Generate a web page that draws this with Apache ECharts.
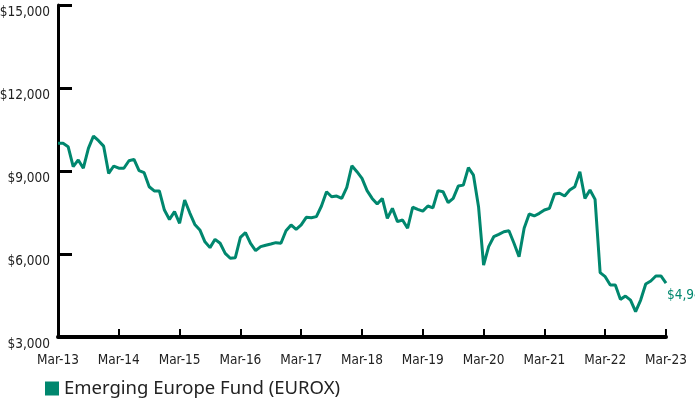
<!DOCTYPE html>
<html>
<head>
<meta charset="utf-8">
<script src="https://cdn.jsdelivr.net/npm/echarts@6/dist/echarts.min.js"></script>
<style>
  html, body { margin: 0; padding: 0; background: #fff; }
  #chart { width: 695px; height: 400px; }
</style>
</head>
<body>
<div id="chart"></div>
<script>
// 月度净值（$10,000 起始），Mar-13 到 Mar-23
const seriesName = 'Emerging Europe Fund (EUROX)'
const monthNames = ['Mar', 'Apr', 'May', 'Jun', 'Jul', 'Aug', 'Sep', 'Oct', 'Nov', 'Dec', 'Jan', 'Feb']
const fundValues = [
  10000, 10000, 9880, 9155, 9400, 9100, 9820, 10264, 10095, 9900, 8915, 9180,
  9100, 9100, 9370, 9420, 9010, 8940, 8430, 8280, 8280, 7590, 7250, 7530,
  7110, 7950, 7490, 7070, 6870, 6440, 6230, 6530, 6390, 6025, 5845, 5865,
  6600, 6770, 6380, 6120, 6265, 6315, 6360, 6410, 6390, 6840, 7050, 6890,
  7050, 7325, 7310, 7350, 7735, 8250, 8070, 8095, 8010, 8410, 9190, 8975,
  8735, 8290, 8010, 7805, 8010, 7290, 7650, 7170, 7230, 6930, 7690, 7615,
  7550, 7735, 7670, 8290, 8250, 7855, 8010, 8455, 8490, 9120, 8850, 7710,
  5600, 6265, 6625, 6710, 6805, 6840, 6390, 5900, 6930, 7445, 7375, 7470,
  7590, 7650, 8170, 8195, 8095, 8310, 8430, 8975, 8010, 8310, 7975, 5325,
  5180, 4880, 4880, 4360, 4480, 4335, 3915, 4335, 4915, 5025, 5205, 5205,
  4948
]
const endLabelText = '$4,948'

// 生成月份类目
const categories = fundValues.map((v, i) => {
  const yr = 13 + Math.floor((i + 2) / 12)
  return monthNames[i % 12] + '-' + yr
})

const teal = '#00876e'
// 压缩字体：condensed 写进 font 简写
const narrow = '"DejaVu Sans Condensed", "DejaVu Sans", sans-serif'
const narrowText = { fontFamily: narrow, fontStyle: 'normal', fontWeight: 'condensed' }

const chart = echarts.init(document.getElementById('chart'))

const option = {
  animation: false,
  grid: { left: 58, right: 29, top: 5, bottom: 63, containLabel: false, outerBoundsMode: 'none' },
  legend: {
    data: [{ name: seriesName, icon: 'rect' }],
    left: 40,
    top: 374,
    itemWidth: 14,
    itemHeight: 14,
    itemGap: 8,
    textStyle: { fontSize: 18.5, color: '#222', fontFamily: '"Noto Sans", sans-serif' }
  },
  xAxis: {
    type: 'category',
    data: categories,
    boundaryGap: false,
    axisLine: { lineStyle: { color: '#000', width: 4 } },
    axisTick: { show: true, inside: true, length: 8, interval: 11, lineStyle: { color: '#000', width: 2 } },
    axisLabel: { interval: 11, margin: 16, fontSize: 13.5, color: '#222', ...narrowText },
    splitLine: { show: false }
  },
  yAxis: {
    type: 'value',
    min: 3000,
    max: 15000,
    interval: 3000,
    axisLine: { show: true, lineStyle: { color: '#000', width: 3 } },
    axisTick: { show: true, inside: true, length: 14, lineStyle: { color: '#000', width: 3 } },
    axisLabel: {
      margin: 8,
      fontSize: 13.5,
      color: '#222',
      ...narrowText,
      verticalAlign: 'top',
      formatter: (v) => '$' + v.toLocaleString('en-US')
    },
    splitLine: { show: false }
  },
  series: [
    {
      name: seriesName,
      type: 'line',
      data: fundValues,
      symbol: 'none',
      color: teal,
      lineStyle: { color: teal, width: 3 },
      endLabel: {
        show: true,
        formatter: endLabelText,
        color: teal,
        fontSize: 13.5,
        ...narrowText,
        distance: 1,
        offset: [0, 12]
      }
    }
  ]
}

chart.setOption(option)
</script>
</body>
</html>
